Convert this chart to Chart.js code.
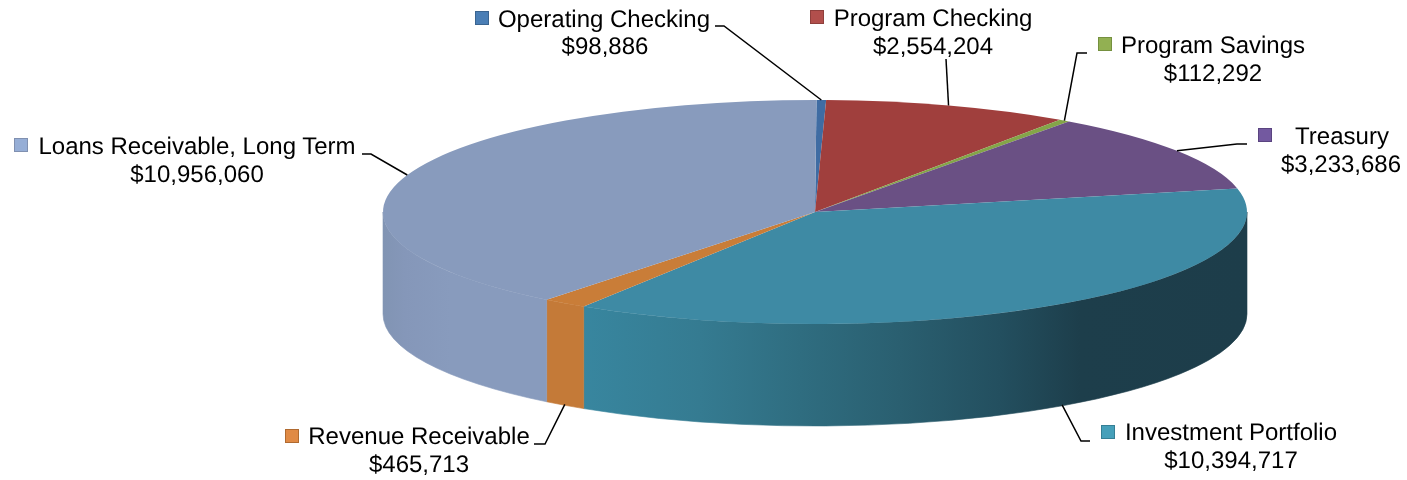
<!DOCTYPE html>
<html><head><meta charset="utf-8">
<style>html,body{margin:0;padding:0;background:#fff}canvas{display:block}</style>
<script src="https://cdn.jsdelivr.net/npm/chart.js@4"></script>
</head><body><canvas id="c" width="1407" height="480" style="width:1407px;height:480px"></canvas>
<script>
const categories = ["Operating Checking","Program Checking","Program Savings","Treasury","Investment Portfolio","Revenue Receivable","Loans Receivable, Long Term"];
const values = [98886,2554204,112292,3233686,10394717,465713,10956060];
const sliceColors = ["#3f6ca3","#a03f3d","#84a548","#6a5084","#3e8aa4","#c97d38","#889bbd"];
const keyColors = ["#4a7eb5","#b24f4c","#92b052","#7359a0","#46a0ba","#e08a45","#96aed6"];
const keyBorders = ["#3a6490","#8f3f3c","#75903f","#5a4480","#357f95","#b06a30","#8090b0"];

const VIEW = {cx:815, cy:212, rx:432, ry:112, depth:102, rotation:0.2};
// per label: key box, name centre, value centre, baselines, elbow points of leader
const labelLayout = [
 {kx:475,ky:11, nx:604, vx:605, b1:27, b2:54, elbow:[[724,26],[715,26]]},
 {kx:810,ky:10, nx:933, vx:933, b1:26, b2:54, elbow:[[946,59]]},
 {kx:1098,ky:37,nx:1213,vx:1213,b1:53, b2:81, elbow:[[1077,53],[1087,53]]},
 {kx:1258,ky:128,nx:1342,vx:1341,b1:144,b2:172,elbow:[[1237,144],[1247,144]]},
 {kx:1101,ky:425,nx:1231,vx:1231,b1:440,b2:468,elbow:[[1081,441],[1090,441]]},
 {kx:285,ky:429,nx:419,vx:419,b1:444,b2:472,elbow:[[545,444],[534,444]]},
 {kx:14,ky:138,nx:197,vx:197,b1:154,b2:182,elbow:[[371,154],[362,154]]}
];
const wallStops = {
 4:[[583,"#38869f"],[700,"#357b91"],[800,"#2f6d80"],[900,"#2a5f70"],[1000,"#234f5f"],[1080,"#1d3e4b"],[1247,"#1d3d4a"]],
 5:[[546,"#c47a38"],[583,"#c47a38"]],
 6:[[383,"#8194b3"],[405,"#8597b9"],[450,"#889bbd"],[546,"#889bbd"]]
};
const fmt = v => "$" + v.toLocaleString("en-US");

const pie3d = {
 id:"pie3d",
 beforeDatasetsDraw(chart){
  const ctx = chart.ctx, arcs = chart.getDatasetMeta(0).data;
  const {rx,ry,depth} = VIEW;
  const {x:cx,y:cy} = arcs[0];
  arcs.forEach((arc,i)=>{
   const a0 = Math.max(arc.startAngle,0), a1 = Math.min(arc.endAngle,Math.PI);
   if(a1<=a0) return;
   const stops = wallStops[i];
   const g = ctx.createLinearGradient(stops[0][0],0,stops[stops.length-1][0],0);
   const span = stops[stops.length-1][0]-stops[0][0];
   stops.forEach(s=>g.addColorStop((s[0]-stops[0][0])/span,s[1]));
   ctx.save();
   ctx.beginPath();
   ctx.ellipse(cx,cy,rx,ry,0,a0,a1);
   ctx.ellipse(cx,cy+depth,rx,ry,0,a1,a0,true);
   ctx.closePath();
   ctx.fillStyle = g; ctx.fill();
   ctx.strokeStyle = g; ctx.lineWidth = 0.6; ctx.stroke();
   ctx.restore();
  });
  ctx.save();
  ctx.translate(cx,cy);
  ctx.scale(rx/ry,1);
  ctx.translate(-cx,-cy);
 },
 afterDatasetsDraw(chart){
  const ctx = chart.ctx, arcs = chart.getDatasetMeta(0).data;
  ctx.restore();
  const {rx,ry,depth} = VIEW;
  const {x:cx,y:cy} = arcs[0];
  ctx.save();
  arcs.forEach((arc,i)=>{
   const L = labelLayout[i];
   const mid = (arc.startAngle+arc.endAngle)/2;
   let ax = cx+rx*Math.cos(mid), ay = cy+ry*Math.sin(mid);
   if(Math.sin(mid)>0) ay += depth-1;
   ctx.beginPath();
   ctx.moveTo(ax,ay);
   L.elbow.forEach(p=>ctx.lineTo(p[0],p[1]));
   ctx.strokeStyle="#000"; ctx.lineWidth=1.5; ctx.stroke();
   ctx.fillStyle=keyColors[i]; ctx.strokeStyle=keyBorders[i]; ctx.lineWidth=1;
   ctx.fillRect(L.kx,L.ky,14,14); ctx.strokeRect(L.kx+.5,L.ky+.5,13,13);
   ctx.fillStyle="#000";
   ctx.textRendering="geometricPrecision";
   ctx.font='24px "Liberation Sans"';
   ctx.textAlign="center"; ctx.textBaseline="alphabetic";
   ctx.fillText(categories[i],L.nx,L.b1);
   ctx.fillText(fmt(values[i]),L.vx,L.b2);
  });
  ctx.restore();
 }
};

new Chart(document.getElementById("c"),{
 type:"pie",
 data:{labels:categories,datasets:[{data:values,backgroundColor:sliceColors,borderWidth:0,clip:false}]},
 options:{
  responsive:false,animation:false,
  layout:{padding:{left:223,right:0,top:0,bottom:56}},
  radius:VIEW.ry,
  rotation:VIEW.rotation,
  events:[],
  plugins:{legend:{display:false},tooltip:{enabled:false}}
 },
 plugins:[pie3d]
});
</script></body></html>
